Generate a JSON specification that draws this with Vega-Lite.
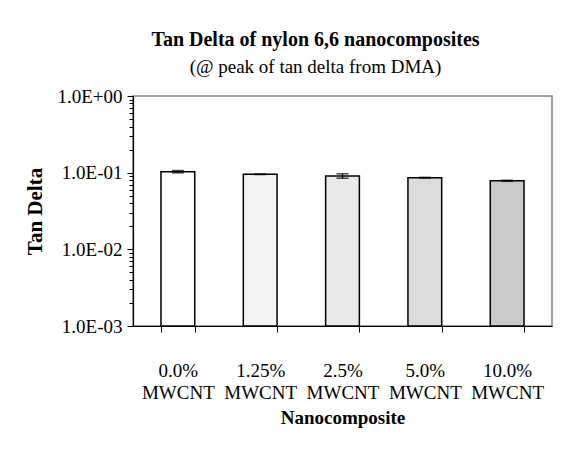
{
  "$schema": "https://vega.github.io/schema/vega-lite/v6.json",
  "width": 419,
  "height": 230,
  "padding": {"left": 24, "top": 30, "right": 16, "bottom": 10},
  "background": "white",
  "title": {
    "text": "Tan Delta of nylon 6,6 nanocomposites",
    "subtitle": "(@ peak of tan delta from DMA)",
    "anchor": "middle",
    "dx": -27,
    "font": "Liberation Serif",
    "fontSize": 20,
    "fontWeight": "bold",
    "color": "black",
    "subtitleFont": "Liberation Serif",
    "subtitleFontSize": 19,
    "subtitleColor": "black",
    "subtitlePadding": 8,
    "offset": 10
  },
  "data": {
    "values": [
      {"composite": "0.0% MWCNT", "tan_delta": 0.103, "lo": 0.0995, "hi": 0.1065},
      {"composite": "1.25% MWCNT", "tan_delta": 0.0953, "lo": 0.0945, "hi": 0.0961},
      {"composite": "2.5% MWCNT", "tan_delta": 0.0906, "lo": 0.0846, "hi": 0.0966},
      {"composite": "5.0% MWCNT", "tan_delta": 0.0861, "lo": 0.0853, "hi": 0.0869},
      {"composite": "10.0% MWCNT", "tan_delta": 0.0784, "lo": 0.0772, "hi": 0.0796}
    ]
  },
  "encoding": {
    "x": {
      "field": "composite",
      "type": "nominal",
      "sort": null,
      "scale": {"paddingInner": 0.59, "paddingOuter": 0.34},
      "axis": {
        "title": "Nanocomposite",
        "titleFont": "Liberation Serif",
        "titleFontSize": 19,
        "titleFontWeight": "bold",
        "titleColor": "black",
        "titlePadding": 6,
        "labelFont": "Liberation Serif",
        "labelFontSize": 19,
        "labelColor": "black",
        "labelAngle": 0,
        "labelPadding": 29,
        "labelLineHeight": 22,
        "labelExpr": "split(datum.label, ' ')",
        "tickBand": "extent",
        "tickSize": 6,
        "tickColor": "black",
        "domainColor": "black",
        "domainWidth": 1.2,
        "labelOverlap": false
      }
    }
  },
  "layer": [
    {
      "mark": {"type": "bar", "stroke": "black", "strokeWidth": 1.5},
      "encoding": {
        "y": {
          "field": "tan_delta",
          "type": "quantitative",
          "scale": {"type": "log", "domain": [0.001, 1], "nice": false},
          "axis": {
            "title": "Tan Delta",
            "titleFont": "Liberation Serif",
            "titleFontSize": 21,
            "titleFontWeight": "bold",
            "titleColor": "black",
            "titlePadding": 11,
            "labelFont": "Liberation Serif",
            "labelFontSize": 19,
            "labelColor": "black",
            "labelPadding": 5,
            "labelOverlap": false,
            "labelBound": false,
            "grid": false,
            "values": [0.001, 0.002, 0.003, 0.004, 0.005, 0.006, 0.007, 0.008, 0.009, 0.01, 0.02, 0.03, 0.04, 0.05, 0.06, 0.07, 0.08, 0.09, 0.1, 0.2, 0.3, 0.4, 0.5, 0.6, 0.7, 0.8, 0.9, 1],
            "labelExpr": "datum.value == 1 ? '1.0E+00' : datum.value == 0.1 ? '1.0E-01' : datum.value == 0.01 ? '1.0E-02' : datum.value == 0.001 ? '1.0E-03' : ''",
            "tickSize": {"condition": {"test": "datum.value == 1 || datum.value == 0.1 || datum.value == 0.01 || datum.value == 0.001", "value": 6}, "value": 4},
            "tickColor": "black",
            "domainColor": "black",
            "domainWidth": 1.2
          }
        },
        "y2": {"datum": 0.001},
        "fill": {
          "field": "composite",
          "type": "nominal",
          "sort": null,
          "scale": {"range": ["#ffffff", "#f3f3f3", "#e9e9e9", "#dcdcdc", "#c9c9c9"]},
          "legend": null
        }
      }
    },
    {
      "mark": {"type": "rule", "color": "black", "strokeWidth": 1.5},
      "encoding": {
        "y": {"field": "lo", "type": "quantitative"},
        "y2": {"field": "hi"}
      }
    },
    {
      "mark": {"type": "tick", "color": "black", "thickness": 1.5, "size": 12},
      "encoding": {"y": {"field": "lo", "type": "quantitative"}}
    },
    {
      "mark": {"type": "tick", "color": "black", "thickness": 1.5, "size": 12},
      "encoding": {"y": {"field": "hi", "type": "quantitative"}}
    }
  ],
  "config": {
    "view": {"stroke": "#808080", "strokeWidth": 1.5},
    "font": "Liberation Serif"
  }
}
